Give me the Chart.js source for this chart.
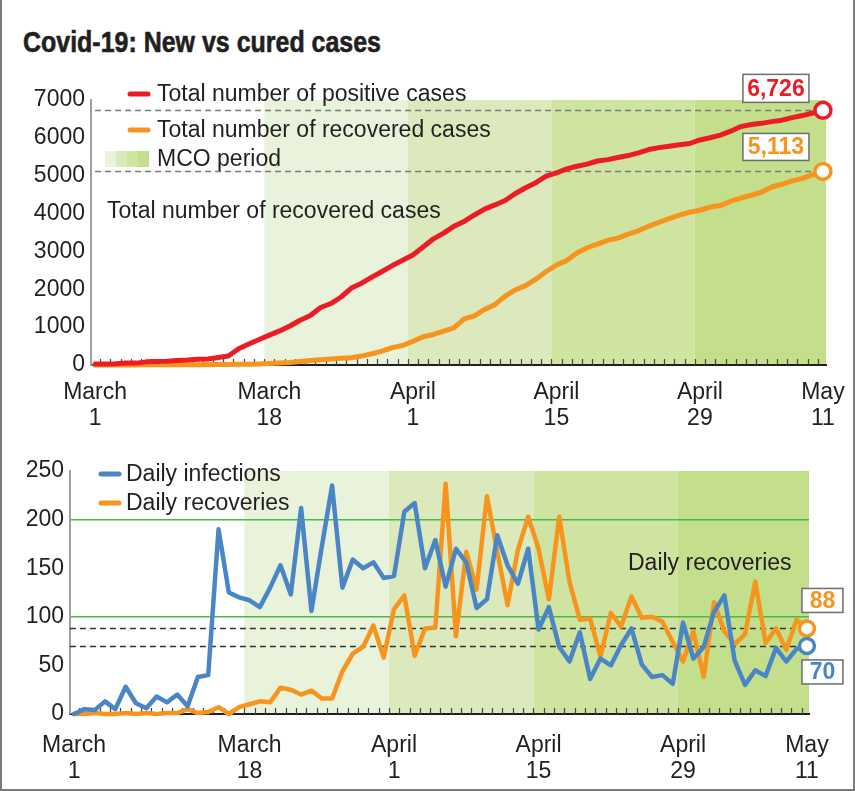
<!DOCTYPE html>
<html>
<head>
<meta charset="utf-8">
<script src="https://cdn.jsdelivr.net/npm/chart.js@4.4.0/dist/chart.umd.min.js"></script>
<style>
  html, body { margin: 0; padding: 0; background: #fff; }
  #page { position: relative; width: 855px; height: 791px; overflow: hidden; }
  #frame { position: absolute; left: 0; top: 0; width: 855px; height: 791px; box-sizing: border-box;
           border-left: 2px solid #7a7a7a; border-right: 2px solid #7a7a7a; border-bottom: 2px solid #7a7a7a; pointer-events: none; }
  #title { position: absolute; left: 23px; top: 28px; font: bold 29px/1 "Liberation Sans Narrow", "Liberation Sans", Arial, sans-serif;
           color: #231f20; transform-origin: 0 0; white-space: nowrap; -webkit-text-stroke: 0.6px #231f20; }
  canvas { position: absolute; left: 0; }
  #topChart { top: 60px; }
  #bottomChart { top: 440px; }
</style>
</head>
<body>
<div id="page">
  <div id="title">Covid-19: New vs cured cases</div>
  <canvas id="topChart" width="855" height="380"></canvas>
  <canvas id="bottomChart" width="855" height="351"></canvas>
  <div id="frame"></div>
</div>
<script>
// March 1 .. May 11, one value per day
const totalPositive = [29, 29, 36, 50, 50, 83, 93, 99, 117, 129, 149, 158, 197, 238, 428, 553, 673, 790, 900, 1030,
  1183, 1306, 1518, 1624, 1796, 2031, 2161, 2320, 2470, 2626, 2766, 2908, 3116, 3333, 3483, 3662, 3793, 3963, 4119, 4228,
  4346, 4530, 4683, 4817, 4987, 5072, 5182, 5251, 5305, 5389, 5425, 5482, 5532, 5603, 5691, 5742, 5780, 5820, 5851, 5945,
  6002, 6071, 6176, 6298, 6353, 6383, 6428, 6467, 6535, 6589, 6656, 6726];
const totalRecovered = [2, 2, 3, 3, 3, 4, 4, 5, 5, 6, 7, 12, 13, 15, 22, 22, 29, 39, 52, 64,
  91, 116, 136, 160, 176, 192, 236, 298, 367, 458, 516, 624, 746, 806, 894, 983, 1220, 1300, 1467, 1595,
  1819, 1986, 2098, 2267, 2470, 2640, 2758, 2961, 3097, 3194, 3292, 3351, 3455, 3545, 3666, 3765, 3865, 3960, 4034, 4088,
  4173, 4211, 4326, 4411, 4483, 4565, 4701, 4774, 4862, 4928, 5025, 5113];
const dailyInfections = [0, 5, 4, 13, 5, 28, 11, 6, 18, 12, 20, 8, 38, 40, 190, 125, 120, 117, 110, 130,
  153, 123, 212, 106, 172, 235, 130, 159, 150, 156, 140, 142, 208, 217, 150, 179, 131, 170, 156, 109,
  118, 184, 153, 134, 170, 87, 110, 69, 54, 84, 36, 57, 50, 71, 88, 51, 38, 40, 31, 94,
  57, 69, 105, 122, 55, 30, 45, 39, 68, 54, 67, 70];
const dailyRecoveries = [0, 0, 1, 0, 0, 1, 0, 1, 0, 1, 1, 5, 1, 2, 7, 0, 7, 10, 13, 12,
  27, 25, 20, 24, 16, 16, 44, 62, 69, 91, 58, 108, 122, 60, 88, 89, 237, 80, 167, 128,
  224, 167, 112, 169, 203, 170, 118, 203, 136, 97, 98, 59, 104, 90, 121, 99, 100, 95, 74, 54,
  85, 38, 115, 85, 72, 82, 136, 73, 88, 66, 97, 88];
const dayIndex = totalPositive.map((_, i) => i);

const tickDays = [0, 17, 31, 45, 59, 71];
const tickLabels = [['March', '1'], ['March', '18'], ['April', '1'], ['April', '15'], ['April', '29'], ['May', '11']];

// MCO phases start on Mar 18, Apr 1, Apr 15, Apr 29
const mcoStarts = [16.5, 30.5, 44.5, 58.5];
const mcoColors = ['#e9f2da', '#dce9bc', '#cfe4a1', '#c3df8b'];

const RED = '#ed1c24', ORANGE = '#f7941d', BLUE = '#4a86c6', GREEN = '#4cb848', INK = '#231f20';
const FONT = '"Liberation Sans", Arial, Helvetica, sans-serif';

// fit the condensed title to its width in the original
const title = document.getElementById('title');
title.style.transform = 'scaleX(' + (358 / title.getBoundingClientRect().width) + ')';

const decor = {
  id: 'decor',
  beforeDraw(chart, args, o) {
    const { ctx, chartArea: a, scales: { x } } = chart;
    const edges = mcoStarts.map(v => x.getPixelForValue(v)).concat(a.right);
    ctx.save();
    mcoColors.forEach((c, i) => {
      ctx.fillStyle = c;
      ctx.fillRect(edges[i], a.top, edges[i + 1] - edges[i], a.bottom - a.top);
    });
    ctx.restore();
  },
  beforeDatasetsDraw(chart, args, o) {
    const { ctx, chartArea: a, scales: { x, y } } = chart;
    ctx.save();
    ctx.setLineDash([6, 4]);
    ctx.strokeStyle = o.dashColor;
    ctx.lineWidth = 1.3;
    o.refs.forEach(v => {
      const py = Math.round(y.getPixelForValue(v)) + 0.5;
      ctx.beginPath();
      ctx.moveTo(x.getPixelForValue(o.dashFrom), py);
      ctx.lineTo(x.getPixelForValue(o.dashTo), py);
      ctx.stroke();
    });
    ctx.setLineDash([]);
    ctx.strokeStyle = '#444';
    ctx.lineWidth = 1.2;
    for (let d = 0; d < 71; d++) {
      const px = Math.round(x.getPixelForValue(d + 0.5)) + 0.5;
      ctx.beginPath();
      ctx.moveTo(px, a.bottom);
      ctx.lineTo(px, a.bottom - 6);
      ctx.stroke();
    }
    ctx.restore();
  },
  afterDraw(chart, args, o) {
    const { ctx, scales: { x, y } } = chart;
    ctx.save();
    ctx.font = '23px ' + FONT;
    ctx.textBaseline = 'middle';
    ctx.textAlign = 'left';
    o.legend.forEach(it => {
      if (it.swatch) {
        mcoColors.forEach((c, i) => {
          ctx.fillStyle = c;
          ctx.fillRect(it.x1 + i * 11, it.y - 8, 11, 16);
        });
      } else {
        ctx.strokeStyle = it.color;
        ctx.lineWidth = 5;
        ctx.lineCap = 'round';
        ctx.beginPath();
        ctx.moveTo(it.x1, it.y);
        ctx.lineTo(it.x2, it.y);
        ctx.stroke();
      }
      ctx.fillStyle = INK;
      ctx.fillText(it.text, it.tx, it.y + 1);
    });
    o.notes.forEach(n => {
      ctx.fillStyle = INK;
      ctx.fillText(n.text, n.x, n.y);
    });
    ctx.font = 'bold 23px ' + FONT;
    ctx.textAlign = 'center';
    o.boxes.forEach(b => {
      const px = x.getPixelForValue(71), py = y.getPixelForValue(b.value);
      const bx = px + b.dx, by = py + b.dy;
      ctx.fillStyle = '#fff';
      ctx.fillRect(bx, by, b.w, b.h);
      ctx.strokeStyle = '#6d6d6d';
      ctx.lineWidth = 1.5;
      ctx.strokeRect(bx, by, b.w, b.h);
      ctx.fillStyle = b.color;
      ctx.fillText(b.text, bx + b.w / 2, by + b.h / 2 + 1);
    });
    ctx.restore();
  }
};

function lineSet(label, data, color, width, radius) {
  return {
    label: label,
    data: data,
    borderColor: color,
    borderWidth: width,
    tension: 0,
    clip: false,
    borderJoinStyle: 'round',
    borderCapStyle: 'round',
    pointRadius: c => (c.dataIndex === data.length - 1 ? radius : 0),
    pointHoverRadius: 0,
    pointBackgroundColor: '#fff',
    pointBorderColor: color,
    pointBorderWidth: 3.5
  };
}

function xAxis(min, max, height, pad) {
  return {
    type: 'linear', min: min, max: max,
    afterBuildTicks: s => { s.ticks = tickDays.map(v => ({ value: v })); },
    // the layout padding alone decides where the plot ends
    afterFit: s => { s.height = height; s.paddingLeft = 0; s.paddingRight = 0; },
    grid: { display: false, drawTicks: false },
    border: { color: INK, width: 2 },
    ticks: {
      autoSkip: false, maxRotation: 0, padding: pad, color: INK,
      font: { size: 23, family: FONT, lineHeight: 1.13 },
      callback: v => tickLabels[tickDays.indexOf(v)]
    }
  };
}

function yAxis(max, step, width) {
  return {
    min: 0, max: max,
    afterFit: s => { s.width = width; },
    border: { color: '#a0a0a0', width: 2 },
    ticks: { stepSize: step, padding: 6, color: INK, font: { size: 23, family: FONT }, callback: v => String(v) }
  };
}

const topY = yAxis(7000, 1000, 91);
topY.grid = { display: false, drawTicks: false };

const bottomY = yAxis(250, 50, 70);
bottomY.grid = {
  drawTicks: false,
  color: c => (c.tick && (c.tick.value === 100 || c.tick.value === 200) ? GREEN : 'rgba(0,0,0,0)'),
  lineWidth: 1.6
};

new Chart(document.getElementById('topChart'), {
  type: 'line',
  data: {
    labels: dayIndex,
    datasets: [
      lineSet('Total number of positive cases', totalPositive, RED, 5, 8),
      lineSet('Total number of recovered cases', totalRecovered, ORANGE, 5, 8)
    ]
  },
  options: {
    responsive: false,
    animation: false,
    layout: { padding: { top: 40, right: 29, left: 0, bottom: 0 } },
    plugins: {
      legend: { display: false },
      tooltip: { enabled: false },
      decor: {
        refs: [6726, 5113], dashColor: '#7a7a7a', dashFrom: 0, dashTo: 70,
        legend: [
          { x1: 130, x2: 148, y: 34, color: RED, tx: 157, text: 'Total number of positive cases' },
          { x1: 130, x2: 148, y: 70, color: ORANGE, tx: 157, text: 'Total number of recovered cases' },
          { swatch: true, x1: 105, y: 99, tx: 157, text: 'MCO period' }
        ],
        notes: [{ x: 107, y: 152, text: 'Total number of recovered cases' }],
        boxes: [
          { value: 6726, text: '6,726', color: RED, dx: -80, dy: -36, w: 66, h: 28 },
          { value: 5113, text: '5,113', color: ORANGE, dx: -80, dy: -38, w: 66, h: 27 }
        ]
      }
    },
    scales: { x: xAxis(-0.4, 71.3, 75, 15), y: topY }
  },
  plugins: [decor]
});

new Chart(document.getElementById('bottomChart'), {
  type: 'line',
  data: {
    labels: dayIndex,
    datasets: [
      lineSet('Daily infections', dailyInfections, BLUE, 4.5, 7.5),
      lineSet('Daily recoveries', dailyRecoveries, ORANGE, 4.5, 7.5)
    ]
  },
  options: {
    responsive: false,
    animation: false,
    layout: { padding: { top: 31, right: 46, left: 0, bottom: 0 } },
    plugins: {
      legend: { display: false },
      tooltip: { enabled: false },
      decor: {
        refs: [88, 70], dashColor: '#333', dashFrom: -0.4, dashTo: 70.3,
        legend: [
          { x1: 101, x2: 119, y: 34, color: BLUE, tx: 126, text: 'Daily infections' },
          { x1: 101, x2: 119, y: 63, color: ORANGE, tx: 126, text: 'Daily recoveries' }
        ],
        notes: [{ x: 628, y: 124, text: 'Daily recoveries' }],
        boxes: [
          { value: 88, text: '88', color: ORANGE, dx: -5, dy: -40, w: 41, h: 24 },
          { value: 70, text: '70', color: BLUE, dx: -5, dy: 14, w: 41, h: 24 }
        ]
      }
    },
    scales: { x: xAxis(-0.39, 71.2, 77, 19), y: bottomY }
  },
  plugins: [decor]
});
</script>
</body>
</html>
